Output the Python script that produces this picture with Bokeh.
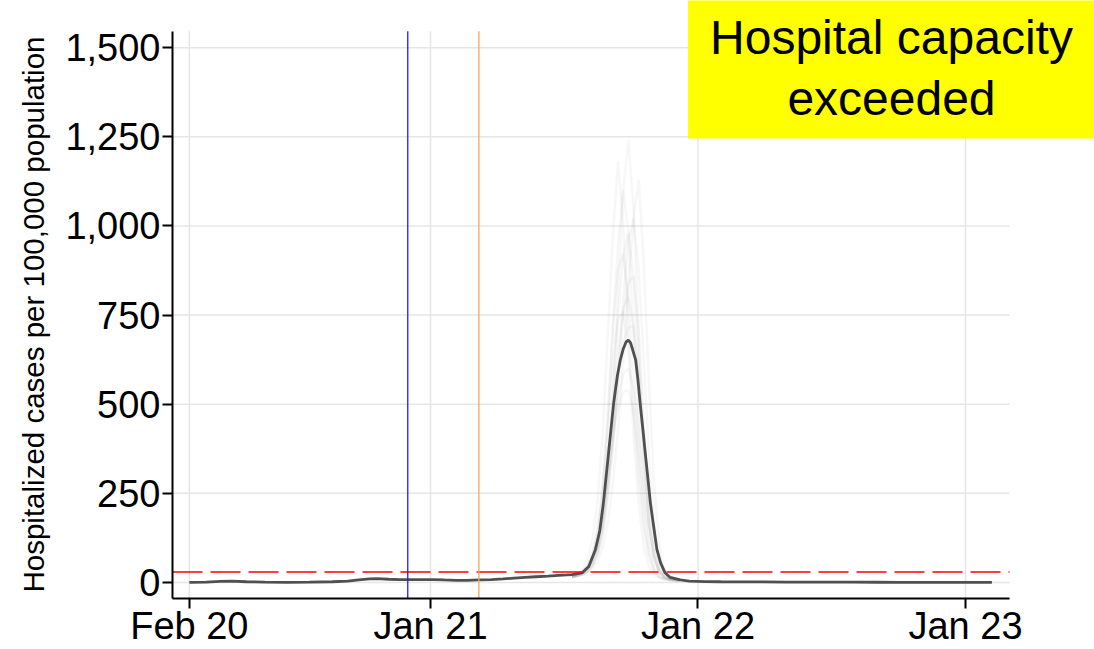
import pandas as pd
from bokeh.plotting import figure
from bokeh.models import (FixedTicker, NumeralTickFormatter, DatetimeTickFormatter,
                          Label, Range1d, Title)
from bokeh.embed import file_html
from bokeh.resources import INLINE

# ---------------- data ----------------
mean_dates = [
    "2020-02-07", "2020-03-01", "2020-03-20", "2020-04-05", "2020-04-25", "2020-05-20",
    "2020-06-20", "2020-07-20", "2020-08-20", "2020-09-10", "2020-09-25", "2020-10-10",
    "2020-10-20", "2020-11-05", "2020-11-20", "2020-12-05", "2020-12-20", "2021-01-05",
    "2021-01-20", "2021-02-05", "2021-02-20", "2021-03-08", "2021-03-25", "2021-04-10",
    "2021-04-25", "2021-05-10", "2021-05-25", "2021-06-10", "2021-06-25", "2021-07-06",
    "2021-07-13", "2021-07-27", "2021-08-05", "2021-08-14", "2021-08-20", "2021-08-25",
    "2021-09-01", "2021-09-08", "2021-09-13", "2021-09-17", "2021-09-21", "2021-09-25",
    "2021-09-28", "2021-10-01", "2021-10-04", "2021-10-08", "2021-10-11", "2021-10-14",
    "2021-10-18", "2021-10-21", "2021-10-25", "2021-10-28", "2021-11-02", "2021-11-06",
    "2021-11-11", "2021-11-17", "2021-11-24", "2021-12-08", "2021-12-20", "2022-01-10",
    "2022-02-01", "2022-03-01", "2022-04-01", "2022-05-01", "2022-06-01", "2022-07-01",
    "2022-08-01", "2022-09-01", "2022-10-01", "2022-11-01", "2022-12-01", "2023-01-01",
    "2023-02-06",
]
mean_values = [
    0, 1, 3, 3.5, 2, 1,
    0.5, 1, 2, 4, 7, 10,
    11, 9, 8, 8, 8, 8,
    7, 6, 6, 7, 8, 10,
    12, 14, 16, 18, 20, 21,
    22, 27, 45, 92, 145, 224,
    364, 504, 580, 624, 655, 675,
    680, 672, 652, 624, 570, 504,
    425, 364, 285, 224, 150, 92,
    55, 27, 14, 7, 4, 2.5,
    2, 1.5, 1.5, 1, 1, 1,
    0.8, 0.6, 0.5, 0.3, 0.2, 0.2,
    0.2,
]

sim_dates = [
    "2021-07-13", "2021-07-20", "2021-07-27", "2021-08-03", "2021-08-10", "2021-08-17",
    "2021-08-24", "2021-08-31", "2021-09-07", "2021-09-14", "2021-09-21", "2021-09-28",
    "2021-10-05", "2021-10-12", "2021-10-19", "2021-10-26", "2021-11-02", "2021-11-09",
    "2021-11-16", "2021-11-23", "2021-11-30", "2021-12-07",
]
sim_01 = [15, 18, 22, 30, 50, 85, 160, 300, 520, 820, 1100, 1240, 1050, 700, 380, 170, 70, 30, 15, 9, 7, 6]
sim_02 = [15, 18, 22, 28, 40, 60, 100, 170, 280, 430, 620, 830, 1020, 1130, 900, 560, 280, 110, 40, 18, 10, 7]
sim_03 = [18, 24, 35, 65, 120, 230, 420, 700, 980, 1180, 1000, 700, 420, 220, 100, 45, 22, 12, 8, 7, 6, 5]
sim_04 = [16, 20, 25, 35, 60, 100, 190, 330, 520, 750, 920, 980, 860, 600, 350, 170, 75, 32, 15, 9, 7, 6]
sim_05 = [17, 21, 28, 45, 80, 150, 280, 480, 720, 880, 920, 800, 560, 330, 170, 80, 35, 16, 10, 7, 6, 5]
sim_06 = [15, 18, 23, 30, 48, 80, 140, 250, 400, 580, 750, 840, 860, 700, 450, 240, 110, 45, 20, 11, 8, 6]
sim_07 = [16, 20, 25, 36, 62, 105, 190, 320, 480, 650, 770, 800, 720, 520, 320, 170, 75, 32, 15, 9, 7, 6]
sim_08 = [18, 22, 29, 46, 80, 140, 260, 430, 620, 740, 760, 660, 470, 290, 150, 70, 30, 15, 9, 7, 6, 5]
sim_09 = [15, 18, 23, 32, 52, 88, 150, 260, 400, 550, 670, 715, 720, 600, 400, 220, 100, 42, 18, 10, 7, 6]
sim_10 = [17, 21, 26, 38, 62, 100, 175, 290, 420, 520, 585, 600, 550, 430, 290, 160, 75, 32, 15, 9, 7, 6]
sim_11 = [18, 22, 28, 42, 70, 110, 190, 300, 410, 490, 535, 540, 480, 360, 240, 130, 60, 28, 14, 8, 6, 5]
sim_12 = [14, 17, 21, 28, 45, 75, 135, 240, 390, 580, 790, 960, 1020, 880, 620, 360, 170, 70, 28, 13, 8, 6]
sim_13 = [17, 21, 27, 42, 75, 135, 250, 450, 720, 950, 1100, 980, 700, 420, 220, 100, 42, 18, 10, 7, 6, 5]
sims = [sim_01, sim_02, sim_03, sim_04, sim_05, sim_06, sim_07, sim_08, sim_09,
        sim_10, sim_11, sim_12, sim_13]

tick_dates = ["2020-02-07", "2021-01-01", "2022-01-01", "2023-01-01"]
y_ticks = [0, 250, 500, 750, 1000, 1250, 1500]
event_dates = ["2020-12-01", "2021-03-08"]
event_colors = ["#2020e0", "#f4a460"]
capacity = 29
y_title = "Hospitalized cases per 100,000 population"
box_text = "Hospital capacity\nexceeded"

# ---------------- figure ----------------
FONT = "Liberation Sans"
md = pd.to_datetime(mean_dates)
sd = pd.to_datetime(sim_dates)

def ms(d):
    return pd.Timestamp(d).timestamp() * 1000

X0, X1 = ms("2020-01-15"), ms("2023-03-02")   # drawn area (axis extent)
Y0, Y1 = -45, 1546

p = figure(width=1094, height=649, x_axis_type="datetime",
           output_backend="svg", toolbar_location=None,
           min_border_left=172, min_border_right=0, min_border_top=0,
           min_border_bottom=0)
p.x_range = Range1d(X0, ms("2023-06-26"))
p.y_range = Range1d(Y0, 1632.5)
p.outline_line_color = None
p.background_fill_color = "white"
p.border_fill_color = "white"
p.xgrid.visible = False
p.ygrid.visible = False

# grid lines, limited to the drawn area
GRID = "#e6e6e6"
p.segment(x0=[X0] * len(y_ticks), x1=[X1] * len(y_ticks), y0=y_ticks, y1=y_ticks,
          line_color=GRID, line_width=1.5)
tick_ms = [ms(t) for t in tick_dates]
p.segment(x0=tick_ms, x1=tick_ms, y0=[Y0] * len(tick_ms), y1=[Y1] * len(tick_ms),
          line_color=GRID, line_width=1.5)

for s in sims:
    p.line(sd, s, line_color="#707070", line_alpha=0.06, line_width=2.5)

p.line(md, mean_values, line_color="#505050", line_width=2.8)

# capacity threshold and event lines
p.segment(x0=[X0], x1=[X1], y0=[capacity], y1=[capacity], line_color="red",
          line_width=1.5, line_dash="30 8")
ev = [ms(d) for d in event_dates]
p.segment(x0=ev, x1=ev, y0=[Y0] * 2, y1=[Y1] * 2, line_color=event_colors,
          line_width=1.3)

# axes
p.xaxis.ticker = FixedTicker(ticks=tick_ms)
p.xaxis.formatter = DatetimeTickFormatter(days="%b %y", months="%b %y", years="%b %y",
                                          hours="%b %y", minutes="%b %y", context=None)
p.xaxis.bounds = (X0, X1)
p.yaxis.ticker = FixedTicker(ticks=y_ticks)
p.yaxis.formatter = NumeralTickFormatter(format="0,0")
p.yaxis.bounds = (Y0, Y1)
for ax in (p.xaxis, p.yaxis):
    ax.major_label_text_font = FONT
    ax.major_label_text_font_size = "38px"
    ax.major_label_text_color = "black"
    ax.axis_line_color = "black"
    ax.axis_line_width = 2
    ax.major_tick_line_color = "black"
    ax.major_tick_line_width = 2
    ax.major_tick_out = 10
    ax.major_tick_in = 0
    ax.minor_tick_line_color = None
p.xaxis.major_label_standoff = -4
p.yaxis.major_label_standoff = 2

# y-axis title, starting near the bottom of the drawn y axis
p.add_layout(Title(text=y_title, align="left", vertical_align="bottom", offset=6,
                   standoff=26, text_font=FONT, text_font_size="29.5px",
                   text_font_style="normal", text_color="black"), "left")

p.add_layout(Label(x=ms("2022-09-22"), y=1442,
                   text=box_text, text_align="center", text_baseline="middle",
                   text_font=FONT, text_font_size="48px", text_color="black",
                   text_line_height=1.15,
                   background_fill_color="yellow", padding=(22, 13)))

open("out.html", "w").write(file_html(p, INLINE))
